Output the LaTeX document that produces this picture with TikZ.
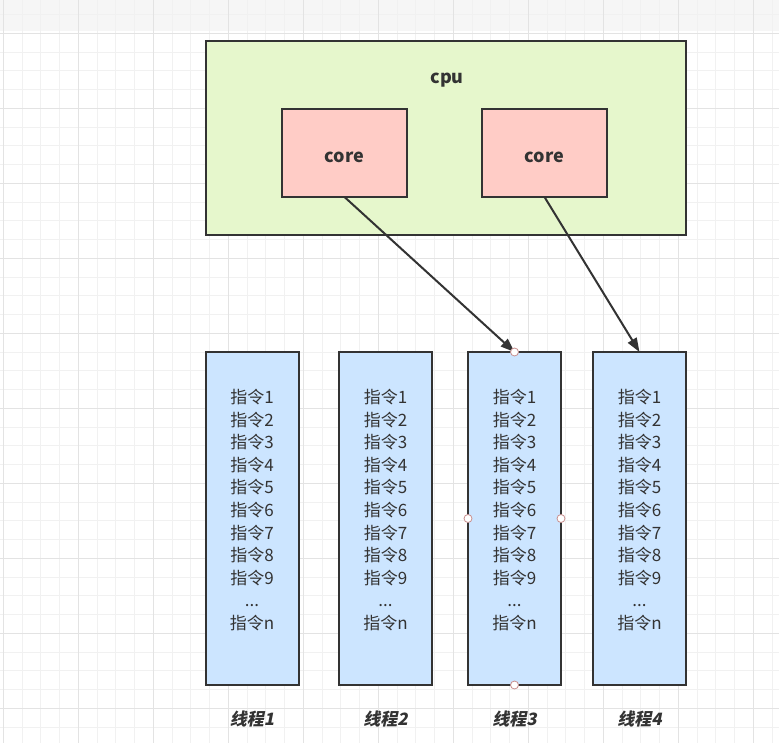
\documentclass[tikz,border=0pt]{standalone}
\usepackage{fontspec}
\setmainfont{Noto Sans CJK SC}
\newfontfamily\slantfont{Noto Sans CJK SC}[FakeSlant=0.2]
\usetikzlibrary{arrows.meta}
\definecolor{cpufill}{HTML}{E6F7CC}
\definecolor{corefill}{HTML}{FFCCC6}
\definecolor{thrfill}{HTML}{CCE5FF}
\definecolor{edge}{HTML}{333333}
\definecolor{txt}{HTML}{333333}
\definecolor{gridminor}{HTML}{F1F1F1}
\definecolor{gridmajor}{HTML}{E3E3E3}
\definecolor{topband}{HTML}{F6F6F6}
\definecolor{handle}{HTML}{C89090}
\tikzset{
  box/.style={draw=edge, line width=2pt, inner sep=0pt, outer sep=0pt},
  cpubox/.style={box, fill=cpufill, minimum width=480pt, minimum height=194pt},
  corebox/.style={box, fill=corefill, minimum width=125pt, minimum height=88pt},
  boldtxt/.style={text=txt, inner sep=0pt, font=\fontsize{18}{20}\selectfont\bfseries},
  thrbox/.style={box, fill=thrfill, minimum width=93pt, minimum height=333pt},
  instr/.style={align=center, text=txt, inner sep=0pt,
    font=\fontsize{17}{22.6}\selectfont},
  thrlabel/.style={text=txt, inner sep=0pt,
    font=\fontsize{17}{20}\selectfont\slantfont\bfseries},
  conn/.style={draw=edge, line width=2pt, -{Triangle[length=14pt,width=10pt]}},
  handledot/.style={circle, draw=handle, fill=white, line width=0.8pt,
    minimum size=8pt, inner sep=0pt}
}
\begin{document}
\begin{tikzpicture}[x=1pt,y=-1pt]
\useasboundingbox (0,0) rectangle (779,743);
\fill[white] (0,0) rectangle (779,743);
\fill[topband] (0,0) rectangle (779,31);
% grid
\foreach \i in {0,...,41} {
  \draw[gridminor, line width=0.8pt] ({3.3+18.75*\i},0) -- ({3.3+18.75*\i},743);
}
\foreach \i in {0,...,40} {
  \draw[gridminor, line width=0.8pt] (0,{-4.2+18.75*\i}) -- (779,{-4.2+18.75*\i});
}
\foreach \i in {0,...,10} {
  \draw[gridmajor, line width=0.8pt] ({3.3+75*\i},0) -- ({3.3+75*\i},743);
  \draw[gridmajor, line width=0.8pt] (0,{33.3+75*\i}) -- (779,{33.3+75*\i});
}
% cpu
\node[cpubox] (cpu) at (446,138) {};
\node[boldtxt] (cpulabel) at (447,80) {cpu};
\node[corebox] (core1) at (344.5,153) {};
\node[corebox] (core2) at (544.5,153) {};
\node[boldtxt] (core1txt) at (344.5,157) {core};
\node[boldtxt] (core2txt) at (544.5,157) {core};
% threads
\node[thrbox] (t1) at (252,518.5) {};
\node[thrbox] (t2) at (385.5,518.5) {};
\node[thrbox] (t3) at (514.5,518.5) {};
\node[thrbox] (t4) at (639.5,518.5) {};
\foreach \n/\x in {1/252,2/385.5,3/514.5,4/639.5} {
  \node[instr] (t\n txt) at (\x,510) {指令1\\指令2\\指令3\\指令4\\指令5\\指令6\\指令7\\指令8\\指令9\\...\\指令n};
  \node[thrlabel] (lab\n) at (\x,719) {线程\n};
}
% connectors
\draw[conn] (core1.south) -- (t3.north);
\draw[conn] (core2.south) -- (t4.north);
% selection handles on thread 3
\node[handledot] (h1) at (t3.north) {};
\node[handledot] (h2) at (t3.south) {};
\node[handledot] (h3) at (t3.west) {};
\node[handledot] (h4) at (t3.east) {};
\end{tikzpicture}
\end{document}
